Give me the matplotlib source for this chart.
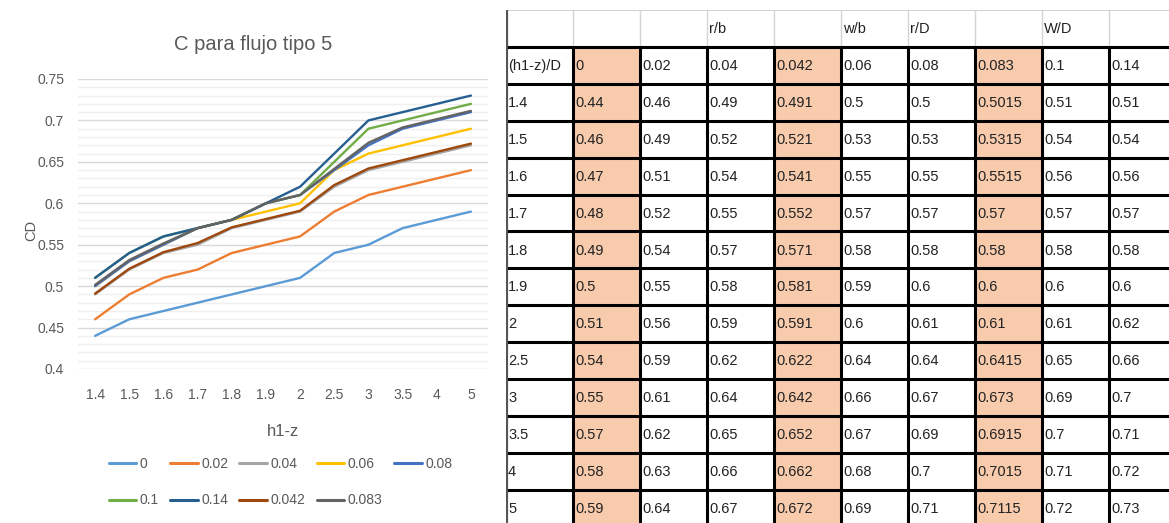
import matplotlib
matplotlib.use('Agg')
import matplotlib.pyplot as plt
from matplotlib.patches import Rectangle
from matplotlib.ticker import MultipleLocator, FuncFormatter

plt.rcParams['font.family'] = ['Liberation Sans', 'DejaVu Sans']

h1z = ['1.4', '1.5', '1.6', '1.7', '1.8', '1.9', '2', '2.5', '3', '3.5', '4', '5']
c_0 = [0.44, 0.46, 0.47, 0.48, 0.49, 0.5, 0.51, 0.54, 0.55, 0.57, 0.58, 0.59]
c_002 = [0.46, 0.49, 0.51, 0.52, 0.54, 0.55, 0.56, 0.59, 0.61, 0.62, 0.63, 0.64]
c_004 = [0.49, 0.52, 0.54, 0.55, 0.57, 0.58, 0.59, 0.62, 0.64, 0.65, 0.66, 0.67]
c_0042 = [0.491, 0.521, 0.541, 0.552, 0.571, 0.581, 0.591, 0.622, 0.642, 0.652, 0.662, 0.672]
c_006 = [0.5, 0.53, 0.55, 0.57, 0.58, 0.59, 0.6, 0.64, 0.66, 0.67, 0.68, 0.69]
c_008 = [0.5, 0.53, 0.55, 0.57, 0.58, 0.6, 0.61, 0.64, 0.67, 0.69, 0.7, 0.71]
c_0083 = [0.5015, 0.5315, 0.5515, 0.57, 0.58, 0.6, 0.61, 0.6415, 0.673, 0.6915, 0.7015, 0.7115]
c_01 = [0.51, 0.54, 0.56, 0.57, 0.58, 0.6, 0.61, 0.65, 0.69, 0.7, 0.71, 0.72]
c_014 = [0.51, 0.54, 0.56, 0.57, 0.58, 0.6, 0.62, 0.66, 0.7, 0.71, 0.72, 0.73]

# chart series (legend order)
chart_names = ['0', '0.02', '0.04', '0.06', '0.08', '0.1', '0.14', '0.042', '0.083']
chart_data = [c_0, c_002, c_004, c_006, c_008, c_01, c_014, c_0042, c_0083]
chart_colors = ['#5B9BD5', '#ED7D31', '#A5A5A5', '#FFC000', '#4472C4',
                '#70AD47', '#255E91', '#9E480E', '#636363']

# table columns (table order)
table_names = ['0', '0.02', '0.04', '0.042', '0.06', '0.08', '0.083', '0.1', '0.14']
table_data = [c_0, c_002, c_004, c_0042, c_006, c_008, c_0083, c_01, c_014]
table_header = ['', '', '', 'r/b', '', 'w/b', 'r/D', '', 'W/D', '']
shaded_cols = [1, 4, 7]

W, H = 1169, 523
fig = plt.figure(figsize=(W / 100, H / 100), dpi=100)

# ---- line chart ----
gray = '#595959'
ax = fig.add_axes([78 / W, 1 - 369 / H, (488 - 78) / W, (369 - 79) / H])
x = list(range(len(h1z)))
for name, vals, col in zip(chart_names, chart_data, chart_colors):
    ax.plot(x, vals, color=col, lw=1.7, label=name, solid_capstyle='round')

ax.set_xlim(-0.5, len(h1z) - 0.5)
ax.set_ylim(0.4, 0.75)
ax.set_xticks(x)
ax.set_xticklabels(h1z)
ax.yaxis.set_major_locator(MultipleLocator(0.05))
ax.yaxis.set_minor_locator(MultipleLocator(0.01))
ax.yaxis.set_major_formatter(FuncFormatter(lambda v, p: f'{round(v, 2):g}'))
ax.grid(axis='y', which='major', color='#D9D9D9', lw=1.0)
ax.grid(axis='y', which='minor', color='#EFEFEF', lw=0.9)
ax.set_axisbelow(True)
for s in ax.spines.values():
    s.set_visible(False)
ax.tick_params(axis='both', which='both', length=0, labelsize=10, colors=gray)
ax.tick_params(axis='x', pad=14)
ax.tick_params(axis='y', pad=10)

fig.text(253 / W, 1 - 45 / H, 'C para flujo tipo 5', ha='center', va='center',
         fontsize=14.5, color=gray)
fig.text(31 / W, 1 - 230 / H, 'CD', rotation=90, ha='center', va='center',
         fontsize=10.5, color=gray)
fig.text(283 / W, 1 - 432 / H, 'h1-z', ha='center', va='center',
         fontsize=12, color=gray)

handles, labels = ax.get_legend_handles_labels()
order = [0, 5, 1, 6, 2, 7, 3, 8, 4]
leg = fig.legend([handles[i] for i in order], [labels[i] for i in order],
                 ncol=5, loc='upper left', bbox_to_anchor=(96 / W, 1 - 444 / H),
                 frameon=False, fontsize=10, handlelength=2.0, handletextpad=0.25,
                 columnspacing=0.8, labelspacing=1.65, labelcolor=gray)
for ln in leg.get_lines():
    ln.set_linewidth(2.2)

# ---- table ----
col_w, row_h = 67, 36.9
left_px, top_px = 506, 10
tax = fig.add_axes([left_px / W, 0, (W - left_px) / W, (H - top_px) / H])
tax.set_xlim(0, (W - left_px) / col_w)
tax.set_ylim((H - top_px) / row_h, 0)
tax.axis('off')

rows = [table_header, ['(h1-z)/D'] + table_names]
for i, lab in enumerate(h1z):
    rows.append([lab] + [str(col[i]) for col in table_data])

n_rows, n_cols = len(rows), len(rows[0])
for r in range(n_rows):
    for c in range(n_cols):
        if r >= 1 and c in shaded_cols:
            tax.add_patch(Rectangle((c, r), 1, 1, facecolor='#F8CBAD', edgecolor='none'))
        txt = rows[r][c]
        if txt:
            tax.text(c + 0.03, r + 0.52, txt, ha='left', va='center',
                     fontsize=10.5, color='#222222')

# header gridlines (light) and data borders (thick black)
tax.hlines(0, 0, n_cols, color='#C8C8C8', lw=1.2)
tax.vlines(range(1, n_cols + 1), 0, 1, color='#D4D4D4', lw=1.0)
tax.hlines(range(1, n_rows + 1), 0, n_cols, color='black', lw=2.2)
tax.vlines(range(1, n_cols + 1), 1, n_rows, color='black', lw=2.2)
tax.vlines(0, 0, n_rows, color='#555555', lw=3.0)

fig.savefig('out.png', dpi=100)
